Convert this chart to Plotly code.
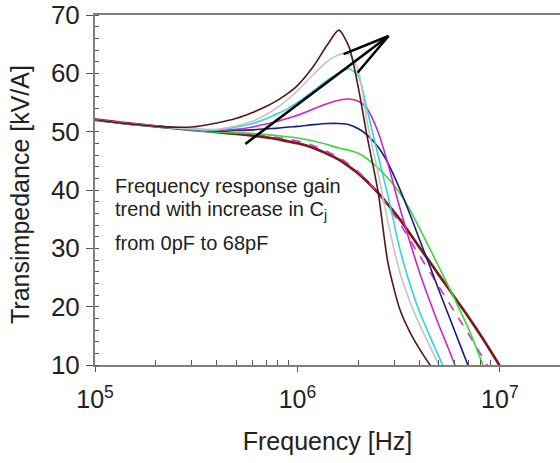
import plotly.graph_objects as go

# Frequency grid [Hz]
freq = [1e5, 1.5e5, 2e5, 3e5, 4e5, 5e5, 6e5, 7e5, 8e5, 9e5, 1e6, 1.2e6, 1.4e6, 1.6e6,
        1.8e6, 2e6, 2.2e6, 2.5e6, 2.8e6, 3.2e6, 3.6e6, 4e6, 4.5e6, 5e6, 5.5e6, 6e6,
        7e6, 8e6, 9e6, 1e7, 1.1e7]

# Transimpedance curves [kV/A] (Cj increasing from bottom curve to top peak)
cj_68pF = [52.0, 51.3, 50.9, 50.8, 51.5, 52.3, 53.3, 54.3, 55.4, 56.6, 57.9, 61.2, 64.8, 67.4,
           64.5, 57.5, 49.5, 39.8, 27.5, 19.6, 15.6, 12.8, 10.1, 8.0, 6.5, 5.5,
           4.0, 3.0, 2.5, 2.0, 1.5]
cj_56pF = [52.0, 51.3, 50.9, 50.5, 50.4, 51.0, 51.8, 52.9, 54.2, 55.6, 57.0, 59.8, 62.0, 63.2,
           63.3, 60.5, 52.0, 43.0, 34.5, 26.0, 20.8, 17.0, 13.3, 10.0, 7.3, 5.5,
           4.0, 3.0, 2.5, 2.0, 1.5]
cj_47pF = [52.0, 51.3, 50.9, 50.4, 50.3, 50.8, 51.4, 52.2, 53.1, 54.0, 55.0, 57.0, 58.8, 60.0,
           60.8, 59.5, 54.0, 46.0, 39.0, 30.0, 23.8, 19.2, 15.0, 11.4, 8.2, 6.0,
           4.5, 3.5, 3.0, 2.5, 2.0]
cj_33pF = [52.0, 51.3, 50.9, 50.4, 50.2, 50.4, 50.8, 51.3, 51.8, 52.3, 52.8, 53.9, 54.8, 55.4,
           55.6, 55.2, 54.0, 50.0, 44.5, 37.0, 31.0, 26.0, 21.0, 16.8, 13.3, 10.0,
           4.5, 3.0, 2.5, 2.0, 1.5]
cj_22pF = [52.0, 51.3, 50.9, 50.4, 50.1, 50.2, 50.3, 50.5, 50.6, 50.8, 50.9, 51.2, 51.4, 51.4,
           51.2, 50.5, 49.5, 47.4, 44.6, 40.2, 35.8, 31.6, 27.0, 22.8, 19.1, 15.7,
           9.7, 4.5, 3.0, 2.5, 2.0]
cj_10pF = [52.0, 51.3, 50.9, 50.3, 49.9, 49.8, 49.7, 49.5, 49.3, 49.1, 48.9, 48.4, 47.8, 47.2,
           46.8, 46.3, 45.4, 43.8, 42.0, 39.5, 36.6, 33.5, 30.0, 26.8, 23.9, 21.2,
           16.2, 11.2, 6.5, 4.0, 3.0]
cj_4pF = [52.1, 51.4, 51.0, 50.4, 50.0, 49.8, 49.6, 49.3, 49.0, 48.7, 48.4, 47.6, 46.6, 45.6,
          44.4, 43.1, 41.7, 39.5, 37.2, 34.3, 31.4, 28.8, 26.0, 23.4, 21.1, 19.0,
          15.3, 12.0, 9.0, 6.3, 4.5]
cj_0pF = [52.0, 51.3, 50.9, 50.3, 49.9, 49.6, 49.3, 49.0, 48.7, 48.3, 48.0, 47.2, 46.2, 45.2,
          44.0, 42.8, 41.5, 39.5, 37.5, 35.0, 32.5, 30.2, 27.7, 25.4, 23.4, 21.5,
          18.2, 15.2, 12.4, 9.8, 7.5]
cj_2pF = [52.2, 51.5, 51.0, 50.4, 50.0, 49.7, 49.4, 49.1, 48.8, 48.4, 48.1, 47.3, 46.3, 45.3,
          44.1, 42.9, 41.6, 39.6, 37.6, 35.1, 32.6, 30.3, 27.8, 25.5, 23.5, 21.6,
          18.3, 15.3, 12.5, 9.9, 7.6]

series = [
    ("2pF", cj_2pF, "#d2246e", 1.6, "solid"),
    ("0pF", cj_0pF, "#7a1c1c", 2.6, "solid"),
    ("4pF", cj_4pF, "#c23cc2", 1.6, "dash"),
    ("10pF", cj_10pF, "#3ed43e", 1.6, "solid"),
    ("22pF", cj_22pF, "#1c1c7e", 1.6, "solid"),
    ("33pF", cj_33pF, "#c828c0", 1.6, "solid"),
    ("47pF", cj_47pF, "#2ed6d6", 1.6, "solid"),
    ("56pF", cj_56pF, "#c4c4c4", 1.6, "solid"),
    ("68pF", cj_68pF, "#4e1a1a", 1.6, "solid"),
]

# Arrow lines (apex and three end points)
arrow_apex_f = 2.82e6
arrow_apex_v = 66.4
arrow_end_f = [1.69e6, 1.98e6, 5.53e5]
arrow_end_v = [63.3, 60.1, 47.9]

x_tickvals = [1e5, 1e6, 1e7]
x_ticktext = ["10<sup>5</sup>", "10<sup>6</sup>", "10<sup>7</sup>"]
x_minor = [2e5, 3e5, 4e5, 5e5, 6e5, 7e5, 8e5, 9e5,
           2e6, 3e6, 4e6, 5e6, 6e6, 7e6, 8e6, 9e6, 2e7]
y_tickvals = [10, 20, 30, 40, 50, 60, 70]

fig = go.Figure()
for name, vals, color, width, dash in series:
    fig.add_trace(go.Scatter(x=freq, y=vals, mode="lines", name=name,
                             line=dict(color=color, width=width, dash=dash,
                                       shape="spline", smoothing=0.7)))

for ef, ev in zip(arrow_end_f, arrow_end_v):
    fig.add_trace(go.Scatter(x=[arrow_apex_f, ef], y=[arrow_apex_v, ev], mode="lines",
                             line=dict(color="black", width=2.5), showlegend=False))

FONT = "Liberation Sans, Arial, sans-serif"
text_lines = ["Frequency response gain", "trend with increase in C<sub>j</sub>", "from 0pF to 68pF"]
text_y = [185, 210, 242]
for t, yp in zip(text_lines, text_y):
    fig.add_annotation(text=t, xref="paper", yref="paper",
                       x=(113 - 95) / 465, y=(365 - yp) / 352,
                       xanchor="left", yanchor="middle", showarrow=False,
                       font=dict(family=FONT, size=20, color="#222"))

# Y-axis title placed as rotated text
fig.add_annotation(text="Transimpedance [kV/A]", xref="paper", yref="paper",
                   x=(20 - 95) / 465, y=(365 - 194) / 352, textangle=-90,
                   xanchor="center", yanchor="middle", showarrow=False,
                   font=dict(family=FONT, size=25, color="#222"))

fig.update_layout(
    width=560, height=463,
    margin=dict(l=95, r=0, t=13, b=98),
    paper_bgcolor="white", plot_bgcolor="white",
    showlegend=False,
    font=dict(family=FONT, color="#222"),
)
fig.update_xaxes(
    type="log", range=[5, 7.297],
    tickvals=x_tickvals, ticktext=x_ticktext,
    ticks="outside", ticklen=5, tickcolor="#555", tickwidth=1,
    minor=dict(tickvals=x_minor, ticks="inside", ticklen=5, tickcolor="#555"),
    showline=True, linecolor="#7f7f7f", linewidth=2, mirror=True,
    showgrid=False, zeroline=False,
    tickfont=dict(size=25), ticklabelstandoff=6,
    title=dict(text="Frequency [Hz]", font=dict(size=25), standoff=20),
)
fig.update_yaxes(
    range=[10, 70], tickvals=y_tickvals,
    ticks="outside", ticklen=7, tickcolor="#555", tickwidth=1,
    minor=dict(dtick=2, ticks="inside", ticklen=4, tickcolor="#555"),
    showline=True, linecolor="#7f7f7f", linewidth=2,
    showgrid=False, zeroline=False,
    tickfont=dict(size=26), ticklabelstandoff=1, ticklabeloverflow="allow",
)

fig.write_html("out.html")
